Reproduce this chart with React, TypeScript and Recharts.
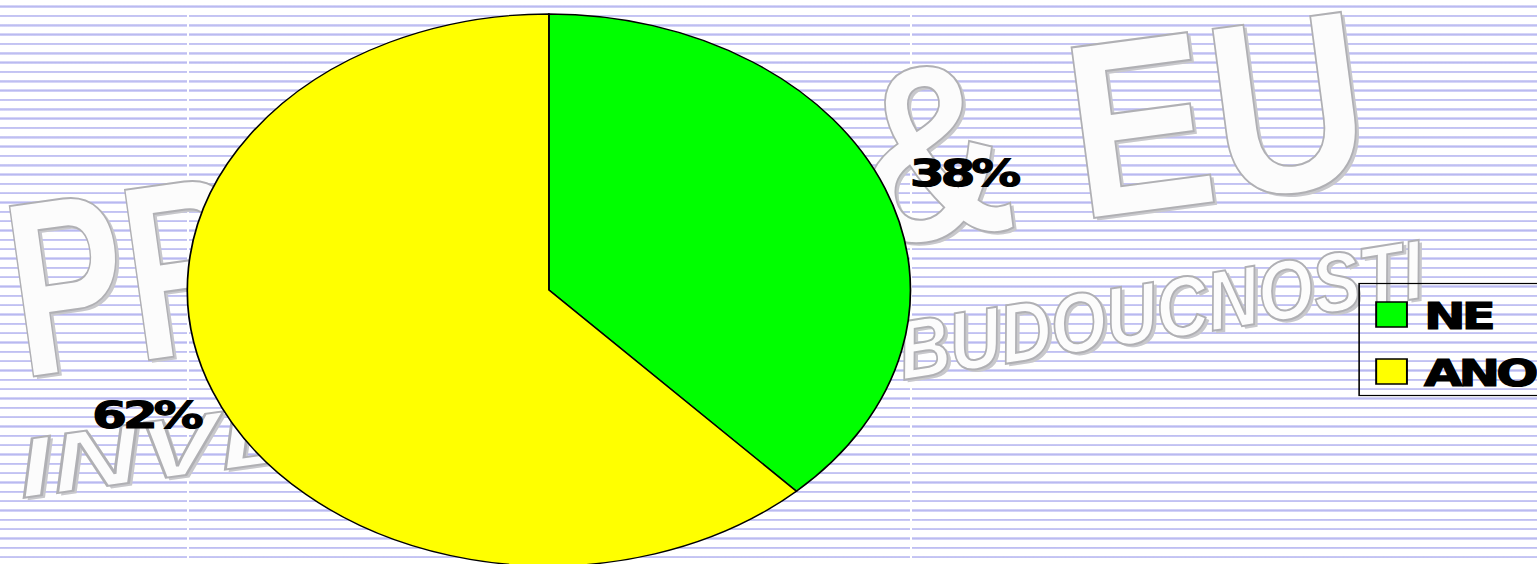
import { PieChart, Pie, Cell, Legend } from "recharts";

const categories = ["NE", "ANO"];
const shares = [38, 62];
const colors = ["#00ff00", "#ffff00"];

const data = categories.map((name, i) => ({ name, value: shares[i] }));

const RAD = Math.PI / 180;
// the original chart is stretched sideways, so the pie turns into an ellipse
const STRETCH = 1.31;
const W = 1537;
const H = 564;

const labelFont = {
    fontFamily: "'DejaVu Sans', sans-serif",
    fontWeight: 700,
    fontSize: 38,
    letterSpacing: -3,
    stroke: "#000",
    strokeWidth: 1.2,
};

function SliceLabel(props: any) {
    const { cx, cy, midAngle, outerRadius, value } = props;
    const ex = cx + outerRadius * Math.cos(-midAngle * RAD);
    const ey = cy + outerRadius * Math.sin(-midAngle * RAD);
    const right = Math.cos(-midAngle * RAD) >= 0;
    return (
        <text
            x={right ? ex + 19 : ex - 10}
            y={right ? ey - 2 : ey + 36}
            textAnchor={right ? "start" : "end"}
            fill="#000"
            style={labelFont}
        >
            {value}%
        </text>
    );
}

function LegendBox() {
    return (
        <svg width={160} height={114} style={{ display: "block", overflow: "visible" }}>
            <rect x={0.5} y={0.5} width={158} height={112} fill="none" stroke="#000" strokeWidth={1.2} />
            {categories.map((c, i) => (
                <g key={c}>
                    <rect
                        x={13.5}
                        y={19 + i * 57}
                        width={23.5}
                        height={25}
                        fill={colors[i]}
                        stroke="#000"
                        strokeWidth={1.5}
                    />
                    <text x={50} y={46 + i * 57} fill="#000" style={labelFont}>
                        {c}
                    </text>
                </g>
            ))}
        </svg>
    );
}

function Watermark() {
    const base = {
        fontFamily: "'Liberation Sans', Arial, sans-serif",
        fontWeight: 700,
        fill: "#fcfcfc",
        stroke: "#b0b0b4",
        strokeWidth: 2,
    };
    const shadow = { ...base, fill: "#c8c8cc", stroke: "none" };
    const items = [
        { t: "PRAHA", x: 22, y: 378, fs: 250, len: 620, rot: -8, italic: false },
        { t: "& EU", x: 866, y: 248, fs: 250, len: 515, rot: -7.5, italic: false },
        { t: "INVESTICE DO", x: 22, y: 498, fs: 84, len: 860, rot: -8, italic: true },
        { t: "BUDOUCNOSTI", x: 903, y: 380, fs: 84, len: 530, rot: -9, italic: true },
    ];
    return (
        <svg width={W} height={H} style={{ position: "absolute", left: 0, top: 0 }}>
            {items.map((it) => (
                <g key={it.t} transform={`rotate(${it.rot} ${it.x} ${it.y})`}>
                    <text
                        x={it.x + 3}
                        y={it.y + 3}
                        fontSize={it.fs}
                        fontStyle={it.italic ? "italic" : "normal"}
                        textLength={it.len}
                        lengthAdjust="spacingAndGlyphs"
                        style={shadow}
                    >
                        {it.t}
                    </text>
                    <text
                        x={it.x}
                        y={it.y}
                        fontSize={it.fs}
                        fontStyle={it.italic ? "italic" : "normal"}
                        textLength={it.len}
                        lengthAdjust="spacingAndGlyphs"
                        style={base}
                    >
                        {it.t}
                    </text>
                </g>
            ))}
        </svg>
    );
}

export default function App() {
    return (
        <div
            style={{
                position: "absolute",
                left: 0,
                top: 0,
                width: W,
                height: H,
                overflow: "hidden",
                background:
                    "repeating-linear-gradient(to bottom, #fff 0px, #fff 5.4px, #d8d8f8 5.4px, #b8b8f0 6.6px, #d8d8f8 7.9px, #fff 7.9px, #fff 9.33px)",
            }}
        >
            <div style={{ position: "absolute", left: 187, top: 15, width: 2, height: H, background: "#fff" }} />
            <div style={{ position: "absolute", left: 910, top: 15, width: 2, height: H, background: "#fff" }} />
            <Watermark />
            <div
                style={{
                    position: "absolute",
                    left: 0,
                    top: 0,
                    transform: `scaleX(${STRETCH})`,
                    transformOrigin: "0 0",
                }}
            >
                <PieChart width={Math.round(W / STRETCH)} height={H} margin={{ top: 0, right: 0, bottom: 0, left: 0 }}>
                    <Pie
                        data={data}
                        dataKey="value"
                        nameKey="name"
                        cx={419}
                        cy={290}
                        outerRadius={276}
                        startAngle={90}
                        endAngle={-270}
                        stroke="#000"
                        strokeWidth={1.3}
                        label={SliceLabel}
                        labelLine={false}
                        isAnimationActive={false}
                    >
                        {data.map((d, i) => (
                            <Cell key={d.name} fill={colors[i]} />
                        ))}
                    </Pie>
                    <Legend
                        layout="vertical"
                        align="right"
                        verticalAlign="middle"
                        content={() => <LegendBox />}
                        wrapperStyle={{ left: 1037, top: 283, width: 160 }}
                    />
                </PieChart>
            </div>
        </div>
    );
}
